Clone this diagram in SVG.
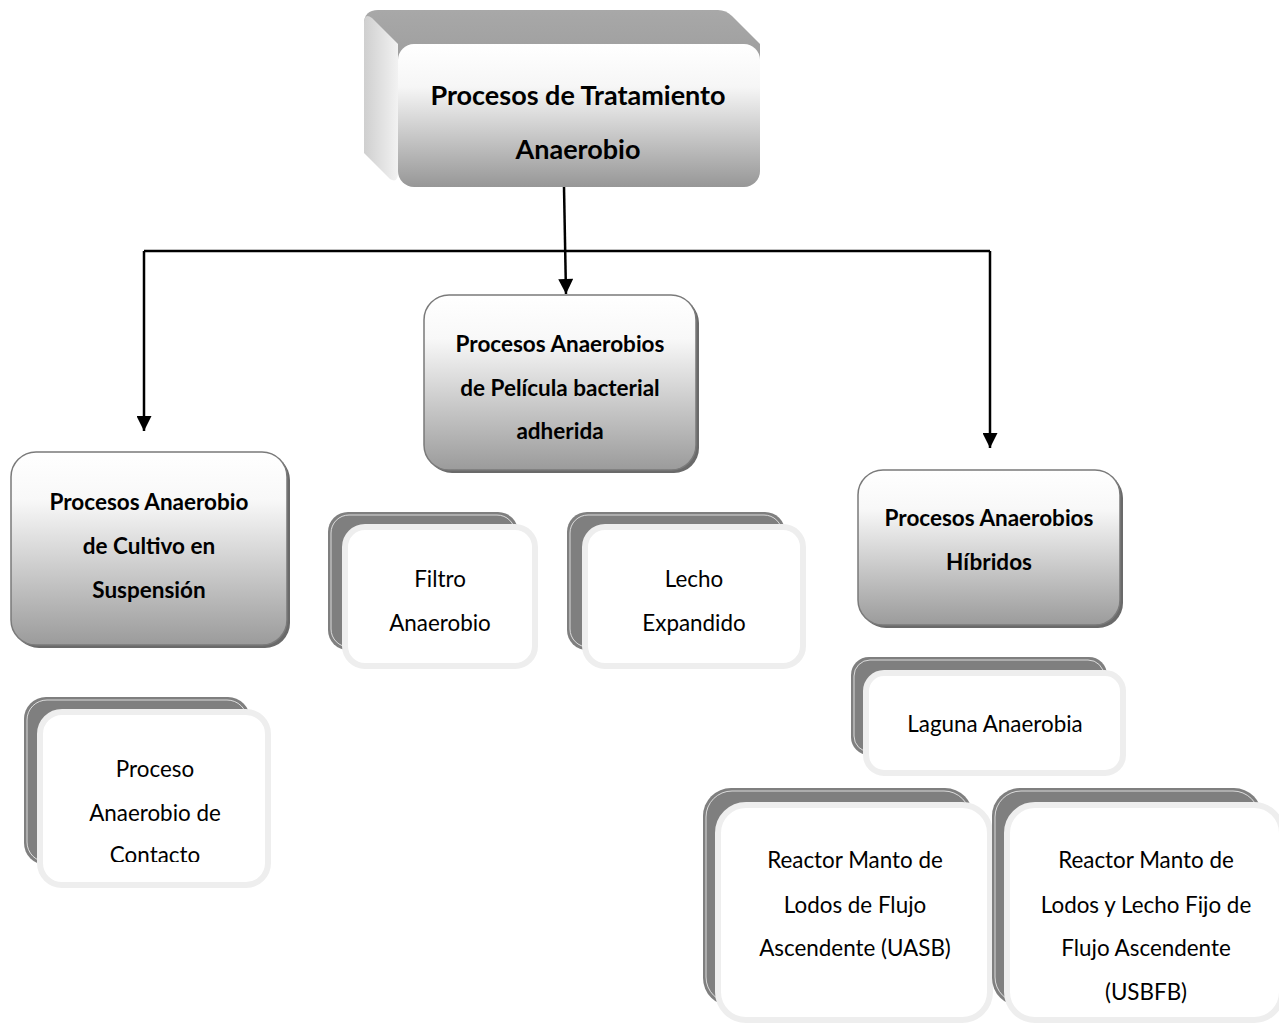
<svg xmlns="http://www.w3.org/2000/svg" width="1279" height="1023" viewBox="0 0 1279 1023">
<defs>
<linearGradient id="gFront" x1="0" y1="0" x2="0" y2="1">
<stop offset="0" stop-color="#ffffff"/><stop offset="0.3" stop-color="#f6f6f6"/><stop offset="1" stop-color="#979797"/>
</linearGradient>
<linearGradient id="gTop" x1="0" y1="0" x2="0" y2="1">
<stop offset="0" stop-color="#a8a8a8"/><stop offset="1" stop-color="#959595"/>
</linearGradient>
<linearGradient id="gLeft" x1="0" y1="0" x2="1" y2="0">
<stop offset="0" stop-color="#cfcfcf"/><stop offset="1" stop-color="#f2f2f2"/>
</linearGradient>
<linearGradient id="gBox" x1="0" y1="0" x2="0" y2="1">
<stop offset="0" stop-color="#ffffff"/><stop offset="0.25" stop-color="#f8f8f8"/><stop offset="1" stop-color="#9b9b9b"/>
</linearGradient>
<marker id="arr" viewBox="0 0 10 10" refX="10" refY="5" markerWidth="7" markerHeight="6" orient="auto" markerUnits="strokeWidth">
<path d="M0,0 L10,5 L0,10 z" fill="#000"/>
</marker>
<clipPath id="clipContacto"><rect x="40" y="712" width="228" height="150"/></clipPath>
</defs>
<style>
.bold{font-family:Lato,"Liberation Sans",sans-serif;font-weight:bold;font-size:22.5px;fill:#000;text-anchor:middle}
.big{font-family:Lato,"Liberation Sans",sans-serif;font-weight:bold;font-size:27px;fill:#000;text-anchor:middle}
.reg{font-family:Lato,"Liberation Sans",sans-serif;font-size:22.4px;fill:#000;text-anchor:middle}
.gbox{fill:url(#gBox);stroke:#7a7a7a;stroke-width:1.5}
.shadow{fill:#6a6a6a}
.back{fill:#7f7f7f}
.backline{fill:none;stroke:#f4f4f4;stroke-width:0.8}
.front{fill:#ffffff;stroke:#eeeeee;stroke-width:6}
.conn{fill:none;stroke:#000;stroke-width:2.5}
</style>

<g id="connectors">
<line class="conn" x1="564" y1="187" x2="566" y2="294" marker-end="url(#arr)"/>
<polyline class="conn" points="144,251 990,251"/>
<line class="conn" x1="144" y1="251" x2="144" y2="431" marker-end="url(#arr)"/>
<line class="conn" x1="990" y1="251" x2="990" y2="448" marker-end="url(#arr)"/>
</g>

<g id="node-root">
<path d="M364,24 Q364,10 378,10 L718,10 Q726,10 732,16 L760,44 L760,110 L398,110 Z" fill="url(#gTop)"/>
<path d="M364,24 Q364,12 372,18 L398,44 L398,172 Q398,184 390,179 L364,153 Z" fill="url(#gLeft)"/>
<rect x="398" y="44" width="362" height="143" rx="16" fill="url(#gFront)"/>
<text class="big" x="578" y="105">Procesos de Tratamiento</text>
<text class="big" x="578" y="159">Anaerobio</text>
</g>

<g id="node-pelicula">
<rect class="shadow" x="427" y="298" width="272" height="175" rx="25"/>
<rect class="gbox" x="424" y="295" width="272" height="175" rx="25"/>
<text class="bold" x="560" y="352">Procesos Anaerobios</text>
<text class="bold" x="560" y="396">de Película bacterial</text>
<text class="bold" x="560" y="439">adherida</text>
</g>

<g id="node-suspension">
<rect class="shadow" x="14" y="455" width="276" height="193" rx="25"/>
<rect class="gbox" x="11" y="452" width="276" height="193" rx="25"/>
<text class="bold" x="149" y="510">Procesos Anaerobio</text>
<text class="bold" x="149" y="554">de Cultivo en</text>
<text class="bold" x="149" y="598">Suspensión</text>
</g>

<g id="node-hibridos">
<rect class="shadow" x="861" y="473" width="262" height="155" rx="25"/>
<rect class="gbox" x="858" y="470" width="262" height="155" rx="25"/>
<text class="bold" x="989" y="526">Procesos Anaerobios</text>
<text class="bold" x="989" y="570">Híbridos</text>
</g>

<g id="node-filtro">
<rect class="back" x="328" y="512" width="190" height="138" rx="20"/>
<rect class="backline" x="331" y="515" width="184" height="132" rx="18"/>
<rect class="front" x="345" y="527" width="190" height="139" rx="20"/>
<text class="reg" x="440" y="587">Filtro</text>
<text class="reg" x="440" y="631">Anaerobio</text>
</g>

<g id="node-lecho">
<rect class="back" x="567" y="512" width="218" height="138" rx="20"/>
<rect class="backline" x="570" y="515" width="212" height="132" rx="18"/>
<rect class="front" x="585" y="527" width="218" height="139" rx="20"/>
<text class="reg" x="694" y="587">Lecho</text>
<text class="reg" x="694" y="631">Expandido</text>
</g>

<g id="node-contacto">
<rect class="back" x="24" y="697" width="226" height="168" rx="22"/>
<rect class="backline" x="27" y="700" width="220" height="162" rx="20"/>
<rect class="front" x="40" y="712" width="228" height="173" rx="22"/>
<text class="reg" x="155" y="777">Proceso</text>
<text class="reg" x="155" y="821">Anaerobio de</text>
<text class="reg" x="155" y="863" clip-path="url(#clipContacto)">Contacto</text>
</g>

<g id="node-laguna">
<rect class="back" x="851" y="657" width="256" height="98" rx="18"/>
<rect class="backline" x="854" y="660" width="250" height="92" rx="16"/>
<rect class="front" x="866" y="673" width="257" height="100" rx="18"/>
<text class="reg" x="995" y="732">Laguna Anaerobia</text>
</g>

<g id="node-uasb">
<rect class="back" x="703" y="788" width="270" height="218" rx="28"/>
<rect class="backline" x="706" y="791" width="264" height="212" rx="26"/>
<rect class="front" x="718" y="805" width="272" height="215" rx="28"/>
<text class="reg" x="855" y="868">Reactor Manto de</text>
<text class="reg" x="855" y="913">Lodos de Flujo</text>
<text class="reg" x="855" y="956">Ascendente (UASB)</text>
</g>

<g id="node-usbfb">
<rect class="back" x="992" y="788" width="270" height="218" rx="28"/>
<rect class="backline" x="995" y="791" width="264" height="212" rx="26"/>
<rect class="front" x="1007" y="805" width="275" height="215" rx="28"/>
<text class="reg" x="1146" y="868">Reactor Manto de</text>
<text class="reg" x="1146" y="913">Lodos y Lecho Fijo de</text>
<text class="reg" x="1146" y="956">Flujo Ascendente</text>
<text class="reg" x="1146" y="1000">(USBFB)</text>
</g>
</svg>
